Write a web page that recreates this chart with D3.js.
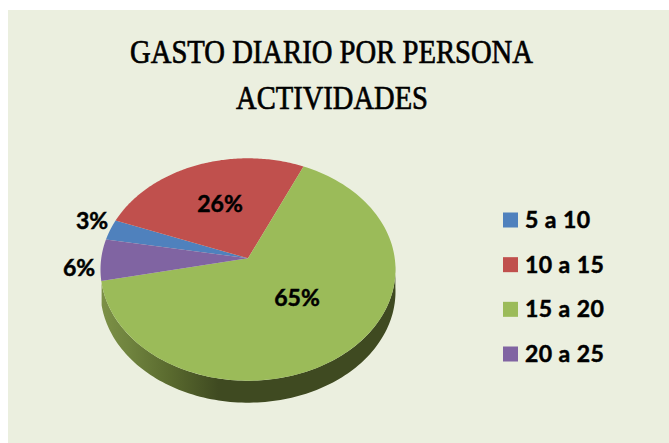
<!DOCTYPE html>
<html><head><meta charset="utf-8">
<script src="https://cdn.jsdelivr.net/npm/d3@7/dist/d3.min.js"></script>
<style>html,body{margin:0;padding:0;background:#fff}svg{display:block}</style>
</head><body><div id="c"></div>
<script>
const categories = ["5 a 10","10 a 15","15 a 20","20 a 25"];
const values = [3,26,65,6];
const colors = ["#4f81bd","#c0504d","#9bbb59","#8064a2"];
const titleLines = ["GASTO DIARIO POR PERSONA","ACTIVIDADES"];

const W=669,H=443;
const svg=d3.select("#c").append("svg").attr("width",W).attr("height",H);
svg.append("rect").attr("x",8).attr("y",10).attr("width",W-8).attr("height",H-10).attr("fill","#ebefdf");

const defs=svg.append("defs");
const g=defs.append("linearGradient").attr("id","side").attr("gradientUnits","userSpaceOnUse")
 .attr("x1",100).attr("x2",396).attr("y1",0).attr("y2",0);
[[0,"#7d9147"],[0.1,"#6f833e"],[0.24,"#59692e"],[0.4,"#3f4a21"],[1,"#3f4a21"]].forEach(s=>g.append("stop").attr("offset",s[0]).attr("stop-color",s[1]));

// perspective projection of the pie disc
const cx=248,cy=258.3,A=146.75,B=110.07,k=0.1007,depth=22;
const proj=(a,r,dy=0)=>{const u=r*Math.sin(a),v=r*Math.cos(a),w=1+k*v;return [cx+A*u/w,cy-B*v/w+dy];};
const pie=d3.pie().sort(null).startAngle(-80*Math.PI/180).endAngle(280*Math.PI/180);
const arcs=pie(values);
const line=d3.line();
const sweep=(a0,a1,dy=0)=>d3.range(0,121).map(i=>proj(a0+(a1-a0)*i/120,1,dy));

// side wall: visible lower rim
const green=arcs[2];
const a0=Math.PI/2+0.06, a1=green.endAngle-0.02;
svg.append("path").attr("fill","url(#side)")
  .attr("d",line(sweep(a0,a1).concat(sweep(a1,a0,depth)))+"Z");

arcs.forEach((d,i)=>{
  svg.append("path").attr("fill",colors[i])
    .attr("d",line([[cx,cy]].concat(sweep(d.startAngle,d.endAngle)))+"Z");
});

// titles
const titleX=[331.5,332], titleY=[63,109], titleLen=[403,192];
titleLines.forEach((t,i)=>svg.append("text").attr("x",titleX[i]).attr("y",titleY[i]).attr("text-anchor","middle")
  .attr("font-family","Liberation Serif").attr("font-size",34).attr("fill","#000").attr("stroke","#000").attr("stroke-width",0.7)
  .attr("textLength",titleLen[i]).attr("lengthAdjust","spacingAndGlyphs").text(t));

// data labels
const labelPos=[[92,229],[220,212],[297,306],[79,276]];
arcs.forEach((d,i)=>svg.append("text").attr("x",labelPos[i][0]).attr("y",labelPos[i][1]).attr("text-anchor","middle")
  .attr("font-family","Lato").attr("font-weight",700).attr("font-size",23).attr("fill","#000")
  .attr("stroke","#000").attr("stroke-width",0.5)
  .text(values[i]+"%"));

// legend
const ly=d3.scalePoint().domain(categories).range([220,354]);
categories.forEach((c,i)=>{
  svg.append("rect").attr("x",503).attr("y",ly(c)-7.5).attr("width",15).attr("height",15).attr("fill",colors[i]);
  svg.append("text").attr("x",525).attr("y",ly(c)+8).attr("font-family","Lato").attr("font-weight",700)
    .attr("font-size",23).attr("letter-spacing",0.45).attr("fill","#000").attr("stroke","#000").attr("stroke-width",0.5).text(c);
});
</script></body></html>
